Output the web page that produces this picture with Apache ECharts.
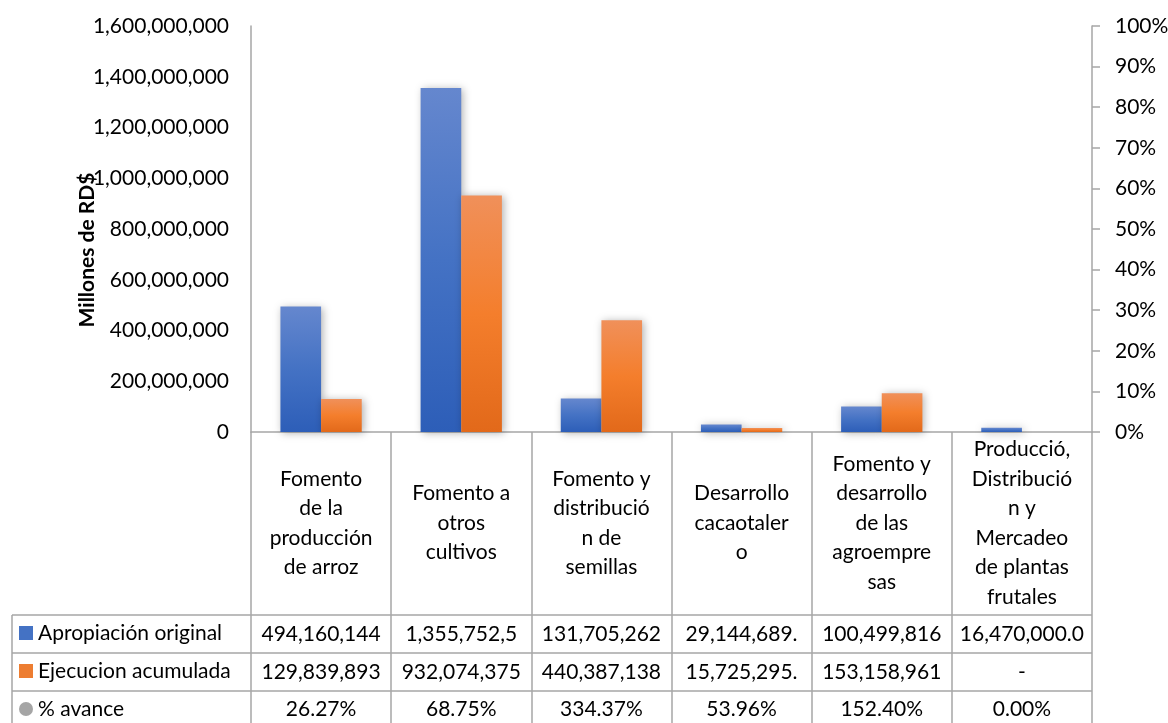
<!DOCTYPE html>
<html><head><meta charset="utf-8">
<script src="https://cdn.jsdelivr.net/npm/echarts@6/dist/echarts.min.js"></script>
<style>html,body{margin:0;padding:0;background:#fff}#c{width:1168px;height:723px}</style>
</head><body><div id="c"></div>
<script>
const categories = [
  'Fomento\nde la\nproducción\nde arroz',
  'Fomento a\notros\ncultivos',
  'Fomento y\ndistribució\nn de\nsemillas',
  'Desarrollo\ncacaotaler\no',
  'Fomento y\ndesarrollo\nde las\nagroempre\nsas',
  'Producció,\nDistribució\nn y\nMercadeo\nde plantas\nfrutales'
];
const seriesNames = ['Apropiación original', 'Ejecucion acumulada', '% avance'];
const apropiacion = [494160144, 1355752500, 131705262, 29144689, 100499816, 16470000];
const ejecucion = [129839893, 932074375, 440387138, 15725295, 153158961, 0];
const avance = [26.27, 68.75, 334.37, 53.96, 152.40, 0.00];
const tableApropiacion = ['494,160,144', '1,355,752,5', '131,705,262', '29,144,689.', '100,499,816', '16,470,000.0'];
const tableEjecucion = ['129,839,893', '932,074,375', '440,387,138', '15,725,295.', '153,158,961', '-'];
const tableAvance = avance.map(v => v.toFixed(2) + '%');
const leftAxis = {min: 0, max: 1600000000, interval: 200000000};
const rightAxis = {min: 0, max: 100, interval: 10};
const yAxisTitle = 'Millones de RD$';

const FONT = 'Lato';
const FS = 21;
const TXT = '#000';
const LINE = '#A6A6A6';

const chart = echarts.init(document.getElementById('c'), null, {renderer: 'canvas'});

function grad(c0, c1, c2) {
  return {type: 'linear', x: 0, y: 0, x2: 0, y2: 1,
    colorStops: [{offset: 0, color: c0}, {offset: 0.5, color: c1}, {offset: 1, color: c2}]};
}
function rowAxis(data, margin) {
  return {
    type: 'category', gridIndex: 0, position: 'bottom', data: data,
    axisLine: {show: false}, axisTick: {show: false}, splitLine: {show: false},
    axisLabel: {interval: 0, margin: margin, verticalAlign: 'middle', fontFamily: FONT, fontSize: FS, color: TXT}
  };
}
const gridTop = 26, gridBottomY = 432;
const rows = [615, 653, 691, 729];

const graphics = [
  {type: 'text', x: 87, y: 250, rotation: Math.PI / 2,
   style: {text: yAxisTitle, fontFamily: FONT, fontWeight: 'bold', fontSize: FS, fill: TXT, align: 'center', verticalAlign: 'middle'}},
  {type: 'line', shape: {x1: 12, y1: 615, x2: 12, y2: 723}, style: {stroke: LINE, lineWidth: 1.5}}
];
rows.forEach(y => graphics.push({type: 'line', shape: {x1: 12, y1: y, x2: 1092, y2: y}, style: {stroke: LINE, lineWidth: 1.5}}));

const option = {
  backgroundColor: '#fff',
  animation: false,
  textStyle: {fontFamily: FONT},
  grid: {left: 251, right: 76, top: gridTop, bottom: 723 - gridBottomY, containLabel: false, outerBoundsMode: 'none'},
  legend: {
    orient: 'vertical', left: 19, top: 622, padding: 0, itemWidth: 14, itemHeight: 14, itemGap: 16, selectedMode: false,
    textStyle: {fontFamily: FONT, fontSize: FS, color: TXT, lineHeight: 22},
    data: [
      {name: seriesNames[0], icon: 'rect', itemStyle: {color: '#4472C4'}},
      {name: seriesNames[1], icon: 'rect', itemStyle: {color: '#ED7D31'}},
      {name: seriesNames[2], icon: 'circle', itemStyle: {color: '#A5A5A5'}}
    ]
  },
  xAxis: [
    {
      type: 'category', data: categories, position: 'bottom',
      axisLine: {show: true, lineStyle: {color: LINE, width: 1.5}},
      axisTick: {show: true, length: 300, lineStyle: {color: LINE, width: 1.5}},
      axisLabel: {interval: 0, margin: 91, verticalAlign: 'middle', lineHeight: 29.5, fontFamily: FONT, fontSize: FS, color: TXT},
      splitLine: {show: false}
    },
    rowAxis(tableApropiacion, 634 - gridBottomY),
    rowAxis(tableEjecucion, 672 - gridBottomY),
    rowAxis(tableAvance, 709 - gridBottomY)
  ],
  yAxis: [
    {
      type: 'value', min: leftAxis.min, max: leftAxis.max, interval: leftAxis.interval, position: 'left',
      axisLine: {show: true, lineStyle: {color: LINE, width: 1.5}},
      axisTick: {show: false}, splitLine: {show: false},
      axisLabel: {margin: 22, fontFamily: FONT, fontSize: FS, color: TXT,
        formatter: v => v.toLocaleString('en-US')}
    },
    {
      type: 'value', min: rightAxis.min, max: rightAxis.max, interval: rightAxis.interval, position: 'right',
      axisLine: {show: true, lineStyle: {color: LINE, width: 1.5}},
      axisTick: {show: true, inside: false, length: 8, lineStyle: {color: LINE, width: 1.5}},
      splitLine: {show: false},
      axisLabel: {margin: 23, fontFamily: FONT, fontSize: FS, color: TXT, formatter: '{value}%'}
    }
  ],
  series: [
    {
      name: seriesNames[0], type: 'bar', xAxisIndex: 0, yAxisIndex: 0, data: apropiacion,
      barGap: '0%', barCategoryGap: '42%',
      itemStyle: {color: grad('#6587CE', '#4472C4', '#2D5EB8'),
        shadowBlur: 8, shadowColor: 'rgba(0,0,0,0.3)', shadowOffsetX: 2, shadowOffsetY: 1}
    },
    {
      name: seriesNames[1], type: 'bar', xAxisIndex: 0, yAxisIndex: 0, data: ejecucion,
      barGap: '0%', barCategoryGap: '42%',
      itemStyle: {color: grad('#F0905A', '#F47E2C', '#E2691A'),
        shadowBlur: 8, shadowColor: 'rgba(0,0,0,0.3)', shadowOffsetX: 2, shadowOffsetY: 1}
    },
    {
      name: seriesNames[2], type: 'line', xAxisIndex: 0, yAxisIndex: 1, data: avance,
      showSymbol: false, symbol: 'circle', silent: true,
      itemStyle: {color: '#A5A5A5'}, lineStyle: {opacity: 0, width: 0}
    }
  ],
  graphic: graphics
};
chart.setOption(option);
</script>
</body></html>
